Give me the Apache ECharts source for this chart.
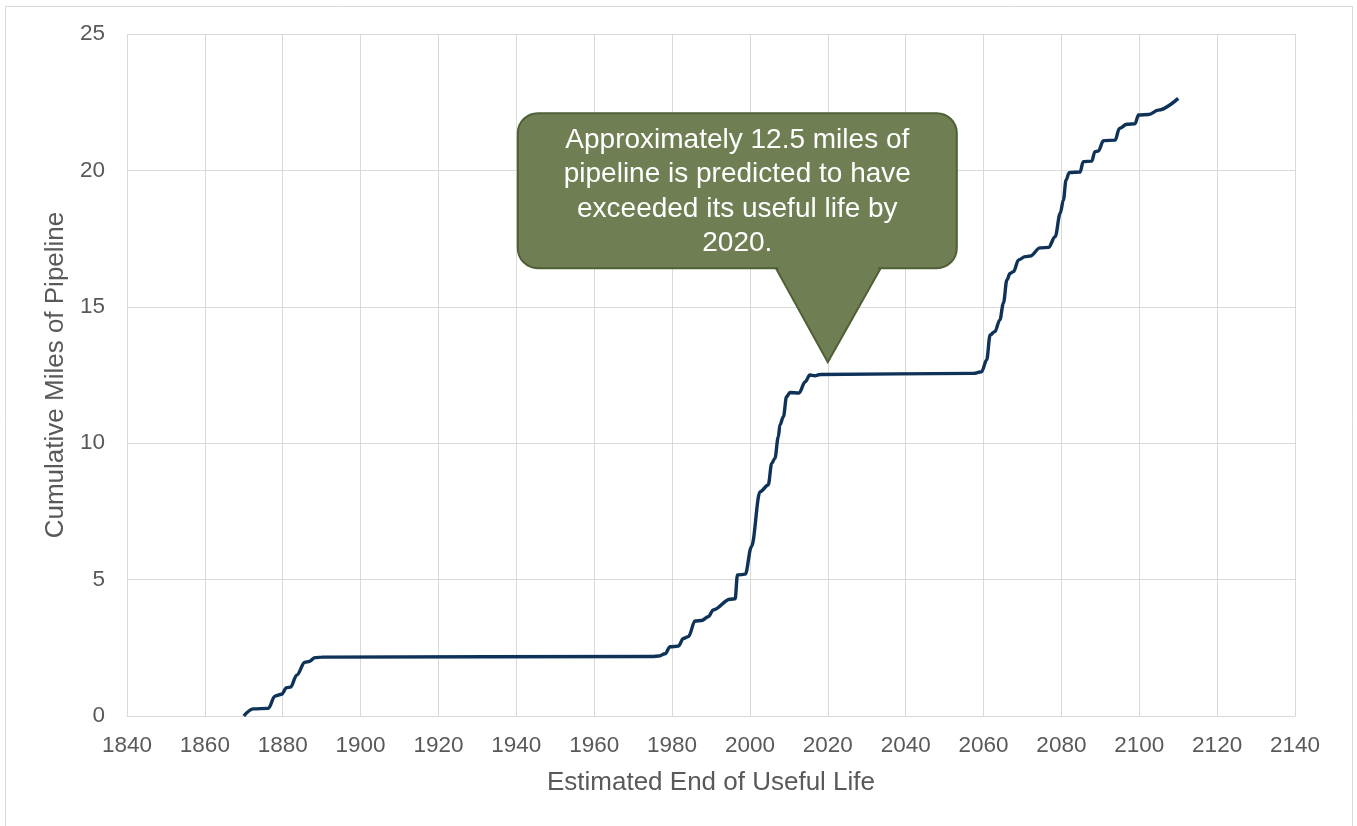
<!DOCTYPE html>
<html>
<head>
<meta charset="utf-8">
<script src="https://cdn.jsdelivr.net/npm/echarts@6/dist/echarts.min.js"></script>
<style>
html,body{margin:0;padding:0;background:#fff;}
#c{width:1357px;height:826px;}
</style>
</head>
<body>
<div id="c"></div>
<script>
const years = [1870,1872.4,1876.3,1878,1879.7,1881,1882,1883.6,1885.7,1886.8,1888.3,1890,1975,1976.5,1978.2,1979.5,1981.6,1982.9,1984.2,1985.9,1987.6,1989.3,1990.6,1994.9,1996.2,1996.8,1998.8,2000.4,2002.6,2004.7,2005.6,2006.4,2007.3,2007.7,2008.6,2009.4,2010.3,2012.6,2014.2,2015.4,2016.7,2018,2057.4,2059.5,2060.8,2061.7,2062.9,2064.2,2065.1,2066,2066.8,2067.7,2069,2070.7,2072,2074.5,2076.7,2078.4,2079.7,2080.5,2081.2,2082,2084.8,2085.6,2087.8,2088.6,2089.5,2090.8,2093.8,2094.9,2096.8,2098.9,2099.8,2102.4,2104.9,2110];
const miles = [0,0.26,0.28,0.73,0.8,1.04,1.06,1.5,1.97,2.0,2.14,2.16,2.18,2.2,2.28,2.54,2.56,2.84,2.91,3.48,3.5,3.64,3.89,4.28,4.3,5.17,5.2,6.21,8.22,8.47,9.26,9.44,10.24,10.67,10.97,11.7,11.86,11.84,12.25,12.5,12.47,12.52,12.56,12.62,13.05,13.97,14.09,14.52,15.13,15.98,16.22,16.29,16.72,16.84,16.86,17.16,17.18,17.57,18.43,18.91,19.65,19.92,19.94,20.32,20.34,20.69,20.71,21.09,21.11,21.54,21.69,21.71,22.03,22.05,22.21,22.64];
const xTicks = [1840,2140,20];
const yTicks = [0,25,5];
const calloutLines = ["Approximately 12.5 miles of","pipeline is predicted to have","exceeded its useful life by","2020."];
const calloutAnchor = [2020, 12.97];

const chart = echarts.init(document.getElementById('c'));
const txt = '#595959';
const font = 'Arial, "Liberation Sans", sans-serif';
chart.setOption({
  animation:false,
  grid:{left:127,right:62,top:34,bottom:110,containLabel:false},
  xAxis:{type:'value',min:xTicks[0],max:xTicks[1],interval:xTicks[2],
    name:'Estimated End of Useful Life',nameLocation:'middle',nameGap:54,
    nameTextStyle:{color:txt,fontSize:26,fontFamily:font},
    axisLine:{show:true,lineStyle:{color:'#d9d9d9',width:1}},
    axisTick:{show:false},
    axisLabel:{color:txt,fontSize:22.5,fontFamily:font,margin:18,formatter:v=>String(v)},
    splitLine:{show:true,lineStyle:{color:'#d9d9d9',width:1}}},
  yAxis:{type:'value',min:yTicks[0],max:yTicks[1],interval:yTicks[2],
    name:'Cumulative Miles of Pipeline',nameLocation:'middle',nameGap:58,nameRotate:90,
    nameTextStyle:{color:txt,fontSize:26,fontFamily:font},
    axisLine:{show:false},axisTick:{show:false},
    axisLabel:{color:txt,fontSize:22.5,fontFamily:font,margin:22},
    splitLine:{show:true,lineStyle:{color:'#d9d9d9',width:1}}},
  series:[{type:'line',data:years.map((y,i)=>[y,miles[i]]),showSymbol:false,
    smooth:0.35,smoothMonotone:'x',
    lineStyle:{color:'#0f3358',width:3.4},z:3}]
});

const tip = chart.convertToPixel({gridIndex:0}, calloutAnchor);
const bx = tip[0]-310, by = tip[1]-249, bw = 439, bh = 155;
chart.setOption({graphic:[
  {type:'rect',left:3,top:4,shape:{x:0,y:0,width:1347,height:830},style:{fill:'none',stroke:'#d9d9d9',lineWidth:1},silent:true,z:0},
  {type:'polygon',shape:{points:[[tip[0]-53,by+bh-2],[tip[0]+54,by+bh-2],[tip[0],tip[1]]]},
    style:{fill:'#6f7f53',stroke:'#4f5f36',lineWidth:2},z:10},
  {type:'rect',shape:{x:bx,y:by,width:bw,height:bh,r:20},style:{fill:'#6f7f53',stroke:'#4f5f36',lineWidth:2},z:11},
  {type:'polygon',shape:{points:[[tip[0]-51,by+bh-3],[tip[0]+52,by+bh-3],[tip[0],tip[1]-4]]},
    style:{fill:'#6f7f53'},z:12},
  {type:'text',x:bx+bw/2,y:by+bh/2+1,style:{text:calloutLines.join('\n'),fill:'#ffffff',fontSize:28,fontFamily:font,
    align:'center',verticalAlign:'middle',lineHeight:34.5},z:13}
]});
</script>
</body>
</html>
